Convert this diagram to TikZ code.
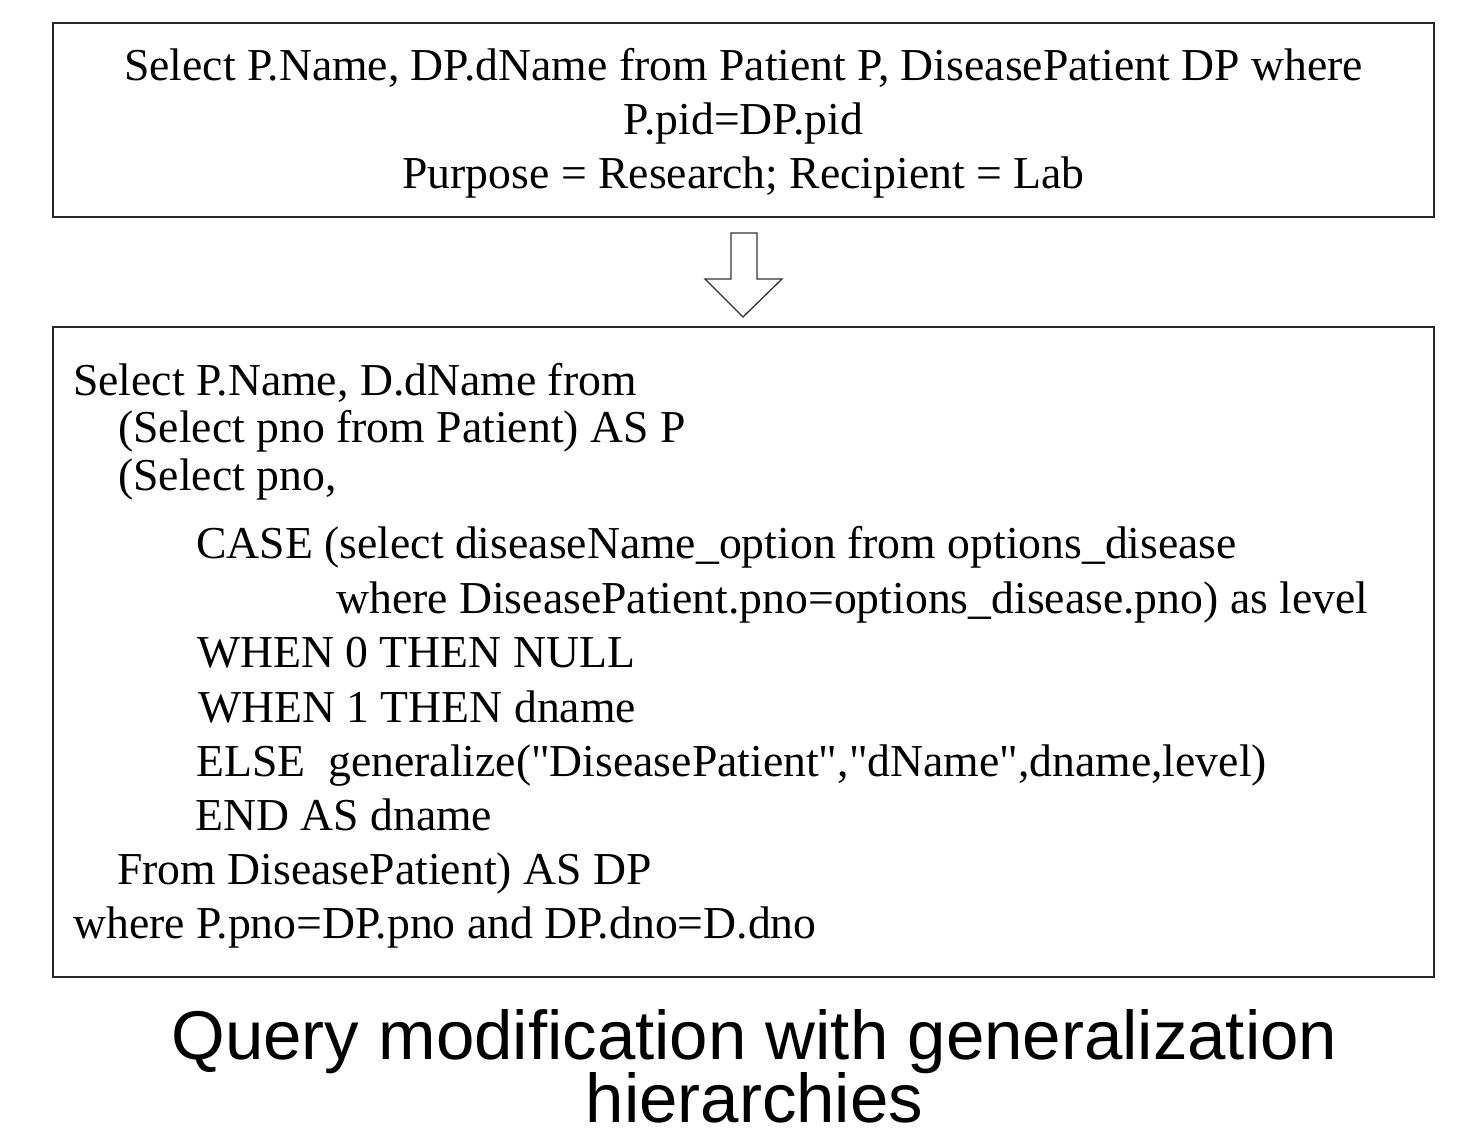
\documentclass[tikz,border=0pt]{standalone}
\usepackage{fontspec}
\setmainfont{Liberation Serif}[Ligatures=TeXOff]
\newfontfamily\capfont{Liberation Sans}
\begin{document}
\begin{tikzpicture}[x=1pt,y=-1pt,
  box/.style={draw=black!85, line width=1.8pt, fill=white, inner sep=0pt},
  qtext/.style={inner sep=0pt, font=\fontsize{45.7}{50}\selectfont},
  ltxt/.style={qtext, anchor=base west},
  ctxt/.style={qtext, anchor=base},
  captxt/.style={inner sep=0pt, anchor=base, font=\capfont\fontsize{69}{65}\selectfont},
  bigarrow/.style={draw=black!80, line width=1.3pt, fill=white, line join=miter}]
\useasboundingbox (0,0) rectangle (1459,1129);
% top box
\node[box, minimum width=1381pt, minimum height=194pt] (q1) at (743.5,120) {};
\node[ctxt] (q1a) at (743.5,81) {Select P.Name, DP.dName from Patient P, DiseasePatient DP where};
\node[ctxt] (q1b) at (743.5,135) {P.pid=DP.pid};
\node[ctxt] (q1c) at (743.5,189) {Purpose = Research; Recipient = Lab};
% arrow
\draw[bigarrow] (731,233) -- (757,233) -- (757,279) -- (782,279) -- (743,317) -- (705,279) -- (731,279) -- cycle;
% bottom box
\node[box, minimum width=1381pt, minimum height=650pt] (q2) at (743.5,652) {};
\node[ltxt] (l1) at (73,395) {Select P.Name, D.dName from};
\node[ltxt] (l2) at (118,442) {(Select pno from Patient) AS P};
\node[ltxt] (l3) at (118,490) {(Select pno,};
\node[ltxt] (l4) at (196,558) {CASE (select diseaseName\_option from options\_disease};
\node[ltxt] (l5) at (336,613) {where DiseasePatient.pno=options\_disease.pno) as level};
\node[ltxt] (l6) at (197,667) {WHEN 0 THEN NULL};
\node[ltxt] (l7) at (198,722) {WHEN 1 THEN dname};
\node[ltxt] (l8) at (196,776) {ELSE\ \ generalize("DiseasePatient","dName",dname,level)};
\node[ltxt] (l9) at (195,830) {END AS dname};
\node[ltxt] (l10) at (117,884) {From DiseasePatient) AS DP};
\node[ltxt] (l11) at (73,938) {where P.pno=DP.pno and DP.dno=D.dno};
% caption
\node[captxt] (cap1) at (754.5,1059) {Query modification with generalization};
\node[captxt] (cap2) at (754.5,1122) {hierarchies};
\end{tikzpicture}
\end{document}
